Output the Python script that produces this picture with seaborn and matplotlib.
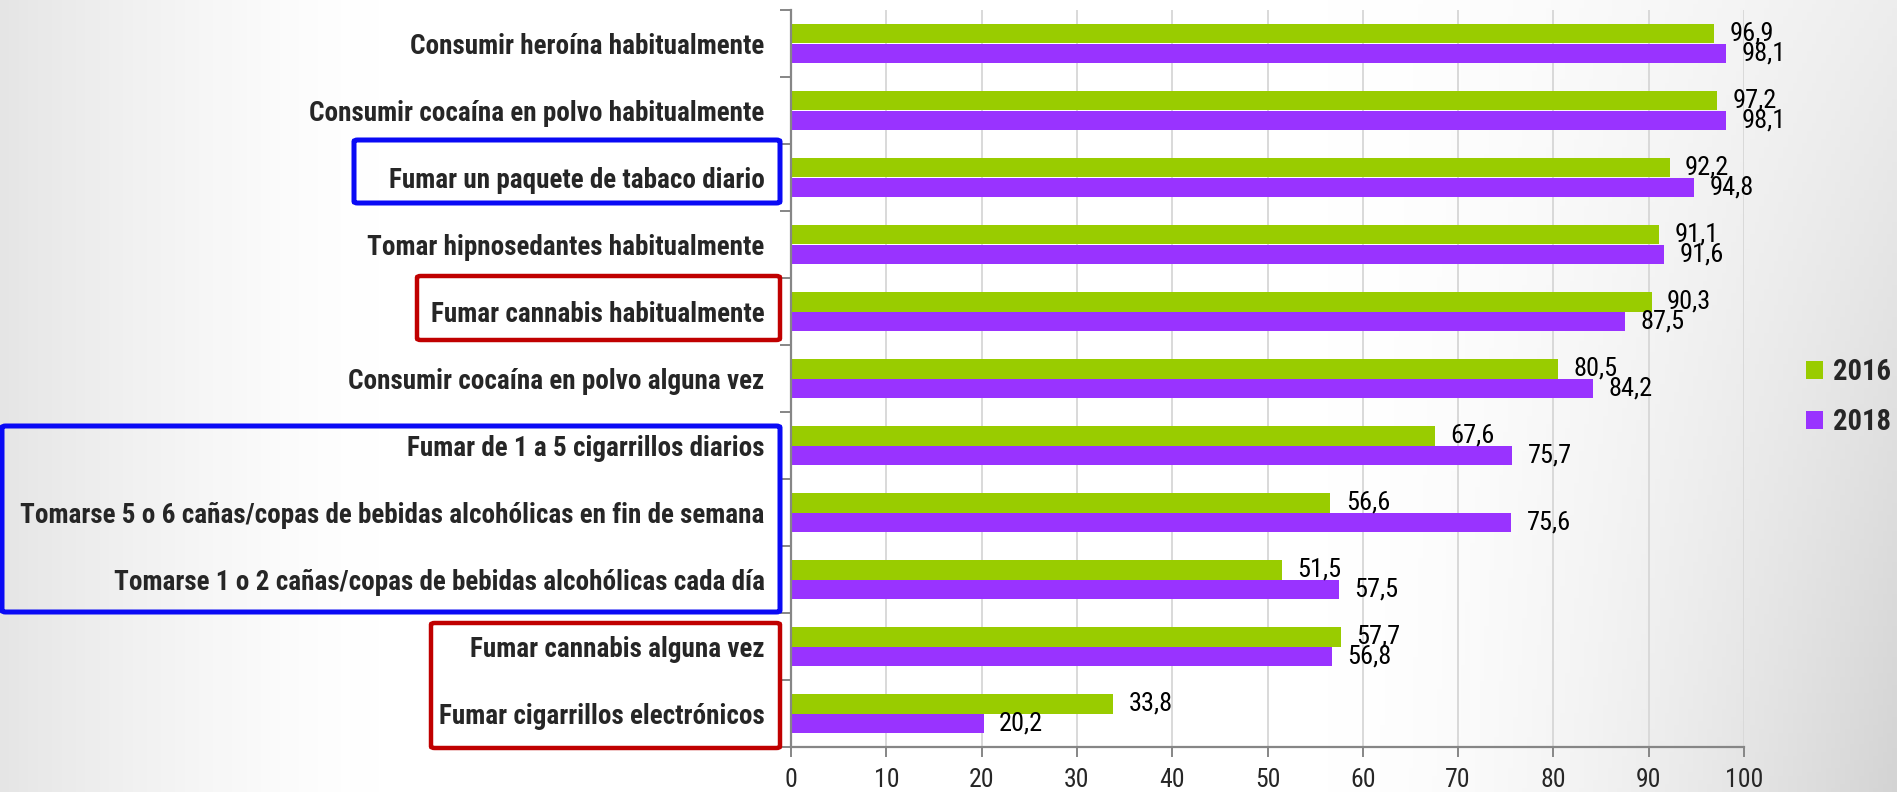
import numpy as np
import pandas as pd
import matplotlib
matplotlib.use("Agg")
import matplotlib.pyplot as plt
from matplotlib import font_manager as fm
from matplotlib.patches import FancyBboxPatch, Patch
import seaborn as sns

# ---------------- data ----------------
categories = [
    "Consumir heroína habitualmente",
    "Consumir cocaína en polvo habitualmente",
    "Fumar un paquete de tabaco diario",
    "Tomar hipnosedantes habitualmente",
    "Fumar cannabis habitualmente",
    "Consumir cocaína en polvo alguna vez",
    "Fumar de 1 a 5 cigarrillos diarios",
    "Tomarse 5 o 6 cañas/copas de bebidas alcohólicas en fin de semana",
    "Tomarse 1 o 2 cañas/copas de bebidas alcohólicas cada día",
    "Fumar cannabis alguna vez",
    "Fumar cigarrillos electrónicos",
]
years = ["2016", "2018"]
v2016 = [96.9, 97.2, 92.2, 91.1, 90.3, 80.5, 67.6, 56.6, 51.5, 57.7, 33.8]
v2018 = [98.1, 98.1, 94.8, 91.6, 87.5, 84.2, 75.7, 75.6, 57.5, 56.8, 20.2]
xticks = [0, 10, 20, 30, 40, 50, 60, 70, 80, 90, 100]

GREEN = "#99CC00"
PURPLE = "#9933FF"

sns.set_style("white")


def has_font(name):
    try:
        fm.findfont(fm.FontProperties(family=name), fallback_to_default=False)
        return True
    except Exception:
        return False


FONT = "DejaVu Sans"
for cand in ["Liberation Sans Narrow", "Roboto Condensed", "Lato", "Open Sans", "Liberation Sans"]:
    if has_font(cand):
        FONT = cand
        break
plt.rcParams["font.family"] = [FONT, "DejaVu Sans"]

W, H = 1897, 792
fig = plt.figure(figsize=(W / 100, H / 100), dpi=100)
fig.patch.set_facecolor("white")
renderer = fig.canvas.get_renderer()


def fit_size(text, target_px, weight="normal"):
    t = fig.text(0, 0, text, fontsize=10, fontweight=weight)
    w = t.get_window_extent(renderer).width
    t.remove()
    return 10 * target_px / w


cat_fs = fit_size(categories[7], 746, "bold")
num_fs = 19
tick_fs = 18.5
leg_fs = fit_size("2016", 58, "bold")

# ---------------- background gradient ----------------
bg = fig.add_axes([0, 0, 1, 1], zorder=-10)
xs = np.linspace(0, 1, 400)
ys = np.linspace(0, 1, 200)  # 0 = top
X, Y = np.meshgrid(xs, ys)
left_term = 0.10 * np.clip(1 - X / 0.20, 0, 1) ** 1.4
right_term = (0.07 + 0.10 * Y) * np.clip((X - 0.70) / 0.30, 0, 1) ** 1.6
G = 1 - left_term - right_term
bg.imshow(np.dstack([G, G, G]), extent=[0, 1, 0, 1], aspect="auto", origin="upper")
bg.set_axis_off()

# ---------------- main axes ----------------
ax_left, ax_right = 791 / W, 1744 / W
ax_top, ax_bot = 10 / H, 747 / H
ax = fig.add_axes([ax_left, 1 - ax_bot, ax_right - ax_left, ax_bot - ax_top])
ax.set_facecolor("none")

df = pd.DataFrame({
    "cat": categories * 2,
    "year": [years[0]] * len(categories) + [years[1]] * len(categories),
    "val": v2016 + v2018,
})
sns.barplot(data=df, x="val", y="cat", hue="year", orient="h",
            palette=[GREEN, PURPLE], width=0.57, errorbar=None,
            saturation=1, legend=False, ax=ax, linewidth=0)

for cont, vals in zip(ax.containers, [v2016, v2018]):
    ax.bar_label(cont, labels=[f"{v:.1f}".replace(".", ",") for v in vals],
                 padding=11, fontsize=num_fs, color="black")

ax.set_xlim(0, 100)
ax.set_xticks(xticks)
ax.set_xticklabels([str(t) for t in xticks])
ax.set_ylim(len(categories) - 0.5, -0.5)
ax.set_xlabel("")
ax.set_ylabel("")

ax.xaxis.grid(True, color="#D9D9D9", linewidth=1.4)
ax.yaxis.grid(False)
ax.set_axisbelow(True)

for s in ["top", "right"]:
    ax.spines[s].set_visible(False)
for s in ["left", "bottom"]:
    ax.spines[s].set_color("#868686")
    ax.spines[s].set_linewidth(1.6)

ax.tick_params(axis="x", length=7, width=1.4, color="#868686",
               labelsize=tick_fs, pad=8, direction="out", bottom=True)
ax.set_yticks(range(len(categories)))
ax.set_yticklabels(categories, fontweight="bold", fontsize=cat_fs)
ax.tick_params(axis="y", which="major", length=0, pad=19)
ax.set_yticks(np.arange(-0.5, len(categories), 1.0), minor=True)
ax.tick_params(axis="y", which="minor", length=8, width=1.4,
               color="#868686", direction="out", left=True)

# ---------------- legend ----------------
handles = [Patch(facecolor=GREEN, edgecolor="none"),
           Patch(facecolor=PURPLE, edgecolor="none")]
fig.legend(handles, years, loc="center left",
           bbox_to_anchor=(1806 / W, 1 - 397 / H), frameon=False,
           prop={"weight": "bold", "size": leg_fs},
           handlelength=0.6, handleheight=0.6, handletextpad=0.35,
           labelspacing=0.75, borderaxespad=0, borderpad=0)

# ---------------- highlight boxes ----------------
def box(x0, y0, x1, y1, color, lw):
    p = FancyBboxPatch((x0 / W, 1 - y1 / H), (x1 - x0) / W, (y1 - y0) / H,
                       boxstyle="round,pad=0,rounding_size=0.002",
                       transform=fig.transFigure, fill=False,
                       edgecolor=color, linewidth=lw, zorder=5)
    fig.add_artist(p)

BLUE = "#0A0AF5"
RED = "#C00000"
box(354, 140, 780, 203, BLUE, 3.6)
box(417, 276, 780, 340, RED, 3.2)
box(2, 426, 780, 612, BLUE, 3.6)
box(431, 623, 780, 748, RED, 3.2)

fig.savefig("out.png", dpi=100)
